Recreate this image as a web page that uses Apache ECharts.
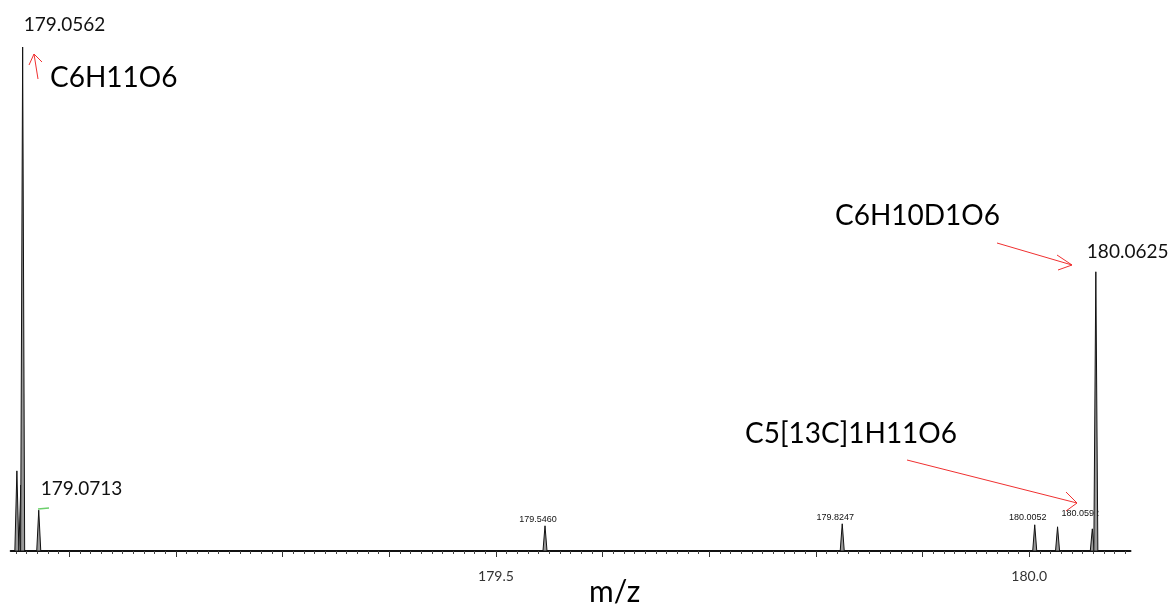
<!DOCTYPE html>
<html>
<head>
<meta charset="utf-8">
<script src="https://cdn.jsdelivr.net/npm/echarts@6/dist/echarts.min.js"></script>
<style>html,body{margin:0;padding:0;background:#fff}#c{width:1173px;height:604px}</style>
</head>
<body>
<div id="c"></div>
<script>
// ---- data ----
const peakMz        = [179.0508, 179.0545, 179.0562, 179.0713, 179.5460, 179.8247, 180.0052, 180.0266, 180.0592, 180.0625];
const peakIntensity = [15.9,     13.1,     100,      8.1,      5.0,      5.4,      5.2,      4.8,      4.4,      55.4];
const peakLabels    = ['',       '',       '179.0562','179.0713','179.5460','179.8247','180.0052','',      '180.0592','180.0625'];
const tickLabels    = ['179.5', '180.0'];
const majorTicks    = [179.1, 179.2, 179.3, 179.4, 179.5, 179.6, 179.7, 179.8, 179.9, 180.0];
const formulas      = ['C6H11O6', 'C6H10D1O6', 'C5[13C]1H11O6'];
const axisName      = 'm/z';

// ---- styles / positions ----
const xMin = 179.045, xMax = 180.095;
const HW = 0.0019; // half base width of a drawn peak (m/z units)
const labelStyle = {
  '179.0562': {dx: 1,  dy: -22, align: 'left',   size: 19, font: 'Lato'},
  '179.0713': {dx: 2,  dy: -21, align: 'left',   size: 19, font: 'Lato'},
  '180.0625': {dx: -9, dy: -20, align: 'left',   size: 19, font: 'Lato'},
  '179.5460': {dx: -7, dy: -6,  align: 'center', size: 9,  font: 'Liberation Sans'},
  '179.8247': {dx: -7, dy: -6,  align: 'center', size: 9,  font: 'Liberation Sans'},
  '180.0052': {dx: -7, dy: -7,  align: 'center', size: 9,  font: 'Liberation Sans'},
  '180.0592': {dx: -12, dy: -15, align: 'center', size: 9, font: 'Liberation Sans'}
};
const minorTicks = [];
for (let i = 5; i <= 109; i++) { if (i % 10 !== 0) minorTicks.push(+(179 + i / 100).toFixed(2)); }

const chart = echarts.init(document.getElementById('c'), null, {renderer: 'canvas'});

function arrow(x1, y1, x2, y2, w1, w2) {
  return [
    {type: 'line', shape: {x1, y1, x2, y2}, style: {stroke: '#f03030', lineWidth: 1}},
    {type: 'polyline', shape: {points: [w1, [x2, y2], w2]}, style: {stroke: '#f03030', lineWidth: 1, fill: null}}
  ];
}

const option = {
  backgroundColor: '#fff',
  animation: false,
  grid: {left: 10.7, right: 42.5, top: 47, bottom: 53},
  xAxis: [{
    type: 'value', min: xMin, max: xMax,
    splitLine: {show: false},
    axisLine: {show: true, lineStyle: {color: '#111', width: 2}},
    axisTick: {show: true, customValues: majorTicks, length: 6, lineStyle: {color: '#333', width: 1}},
    axisLabel: {show: true, customValues: tickLabels.map(Number), formatter: v => tickLabels.find(t => Math.abs(Number(t) - v) < 1e-6) || '',
      margin: 18, color: '#333', fontFamily: 'Lato', fontSize: 14}
  }, {
    type: 'value', min: xMin, max: xMax, position: 'bottom',
    splitLine: {show: false},
    axisLine: {show: false, onZero: false},
    axisTick: {show: true, customValues: minorTicks, length: 3, lineStyle: {color: '#444', width: 1}},
    axisLabel: {show: false}
  }],
  yAxis: {type: 'value', min: 0, max: 100, show: false},
  series: [{
    type: 'custom',
    xAxisIndex: 0,
    data: peakMz.map((m, i) => [m, peakIntensity[i]]),
    renderItem: function (params, api) {
      const m = api.value(0), h = api.value(1);
      const top = api.coord([m, h]);
      const l = api.coord([m - HW, 0]);
      const r = api.coord([m + HW, 0]);
      const children = [{
        type: 'polygon', shape: {points: [l, top, r]},
        style: {fill: '#999', stroke: '#111', lineWidth: 1}
      }];
      const lab = peakLabels[params.dataIndex];
      if (lab) {
        const s = labelStyle[lab];
        children.push({
          type: 'text', x: top[0] + s.dx, y: top[1] + s.dy,
          style: {text: lab, fill: '#111', fontFamily: s.font, fontSize: s.size, align: s.align, verticalAlign: 'middle'}
        });
      }
      return {type: 'group', children};
    }
  }],
  graphic: [
    {type: 'text', left: 50, top: 64, style: {text: formulas[0], fill: '#000', fontFamily: 'Lato', fontSize: 28}},
    {type: 'text', left: 835, top: 202, style: {text: formulas[1], fill: '#000', fontFamily: 'Lato', fontSize: 28}},
    {type: 'text', left: 745, top: 420, style: {text: formulas[2], fill: '#000', fontFamily: 'Lato', fontSize: 28}},
    {type: 'text', left: 589, top: 577, style: {text: axisName, fill: '#000', fontFamily: 'Lato', fontSize: 30}},
    ...arrow(38, 79, 34, 54, [29, 65], [42, 62]),
    ...arrow(997, 243, 1072, 265, [1057, 255], [1058, 270]),
    ...arrow(907, 460, 1077, 503, [1066, 492], [1066, 511]),
    {type: 'line', shape: {x1: 38, y1: 509, x2: 49, y2: 508}, style: {stroke: '#6ccf6c', lineWidth: 1.5}}
  ]
};
chart.setOption(option);
</script>
</body>
</html>
